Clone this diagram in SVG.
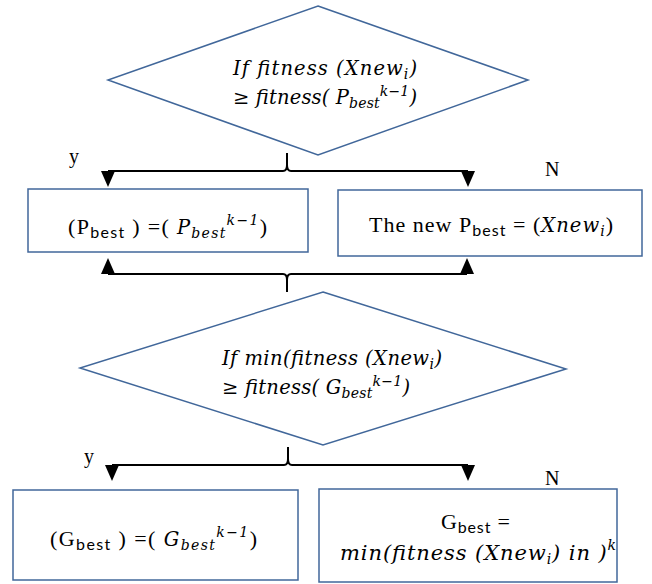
<svg xmlns="http://www.w3.org/2000/svg" width="652" height="584" viewBox="0 0 652 584">
<style>
.shape{fill:#fff;stroke:#41679A;stroke-width:1.5}
.conn{fill:none;stroke:#000;stroke-width:2}
.m{font-family:"DejaVu Serif","Liberation Serif",serif;font-style:italic;font-size:19.5px;fill:#000}
.r{font-family:"Liberation Serif",serif;font-size:22px;fill:#000}
.lbl{font-family:"Liberation Serif",serif;font-size:20px;fill:#000}
.sub{font-size:14px}
.ub{font-family:Lato,"Liberation Sans",sans-serif;font-style:normal;font-size:16px}
.it{font-family:"DejaVu Serif","Liberation Serif",serif;font-style:italic;font-size:19.5px}
.its{font-family:"DejaVu Serif","Liberation Serif",serif;font-style:italic;font-size:14px}
.up{font-family:"DejaVu Serif",serif;font-style:normal}
</style>
<rect width="652" height="584" fill="#fff"/>

<g id="connectors">
<path class="conn" d="M108,171 H283 Q287,171 287,165 Q287,171 291,171 H468"/>
<path class="conn" d="M287,165 V153"/>
<polygon points="101,171 115,171 108,187" fill="#000"/>
<polygon points="461,171 475,171 468,187" fill="#000"/>

<path class="conn" d="M108,274 H283 Q287,274 287,280 Q287,274 291,274 H467"/>
<path class="conn" d="M287,280 V292"/>
<polygon points="101,274 115,274 108,258" fill="#000"/>
<polygon points="460,274 474,274 467,258" fill="#000"/>

<path class="conn" d="M112,465 H284 Q288,465 288,459 Q288,465 292,465 H468"/>
<path class="conn" d="M288,459 V447"/>
<polygon points="105,465 119,465 112,481" fill="#000"/>
<polygon points="461,465 475,465 468,481" fill="#000"/>

<text class="lbl" x="69" y="163">y</text>
<text class="lbl" x="545" y="176">N</text>
<text class="lbl" x="84" y="463">y</text>
<text class="lbl" x="545" y="485">N</text>
</g>

<g id="decision1">
<polygon class="shape" points="318,6 528,80 318,155 108,80"/>
<text class="m" x="233" y="75" textLength="184" lengthAdjust="spacing">If fitness (Xnew<tspan class="sub" dy="4">i</tspan><tspan dy="-4">)</tspan></text>
<text class="m" x="233" y="104" textLength="184" lengthAdjust="spacing"><tspan class="up">≥</tspan> fitness( P<tspan class="sub" dy="4">best</tspan><tspan class="sub" dy="-12">k−1</tspan><tspan dy="8">)</tspan></text>
</g>

<g id="box-pbest-keep">
<rect class="shape" x="28" y="189" width="280" height="63"/>
<text class="r" x="68" y="234" textLength="199" lengthAdjust="spacing">(P<tspan class="ub" dy="4">best</tspan><tspan dy="-4"> ) =( </tspan><tspan class="it">P</tspan><tspan class="its" dy="4">best</tspan><tspan class="its" dy="-13">k−1</tspan><tspan dy="9">)</tspan></text>
</g>

<g id="box-pbest-new">
<rect class="shape" x="338" y="190" width="304" height="66"/>
<text class="r" x="369" y="232" textLength="244" lengthAdjust="spacing">The new P<tspan class="ub" dy="4">best</tspan><tspan dy="-4"> = (</tspan><tspan class="it">Xnew</tspan><tspan class="its" dy="4">i</tspan><tspan dy="-4">)</tspan></text>
</g>

<g id="decision2">
<polygon class="shape" points="323,292 566,369 323,445 80,368"/>
<text class="m" x="222" y="365" textLength="220" lengthAdjust="spacing">If min(fitness (Xnew<tspan class="sub" dy="4">i</tspan><tspan dy="-4">)</tspan></text>
<text class="m" x="222" y="394" textLength="188" lengthAdjust="spacing"><tspan class="up">≥</tspan> fitness( G<tspan class="sub" dy="4">best</tspan><tspan class="sub" dy="-12">k−1</tspan><tspan dy="8">)</tspan></text>
</g>

<g id="box-gbest-keep">
<rect class="shape" x="13" y="490" width="285" height="90"/>
<text class="r" x="50" y="546" textLength="207" lengthAdjust="spacing">(G<tspan class="ub" dy="4">best</tspan><tspan dy="-4"> ) =( </tspan><tspan class="it">G</tspan><tspan class="its" dy="4">best</tspan><tspan class="its" dy="-13">k−1</tspan><tspan dy="9">)</tspan></text>
</g>

<g id="box-gbest-new">
<rect class="shape" x="319" y="489" width="298" height="93"/>
<text class="r" x="441" y="529" textLength="69" lengthAdjust="spacing">G<tspan class="ub" dy="4">best</tspan><tspan dy="-4"> =</tspan></text>
<text class="m" x="340" y="560" style="font-size:21px" textLength="276" lengthAdjust="spacing">min(fitness (Xnew<tspan class="sub" dy="4">i</tspan><tspan dy="-4">) in )</tspan><tspan class="sub" dy="-10">k</tspan></text>
</g>
</svg>
